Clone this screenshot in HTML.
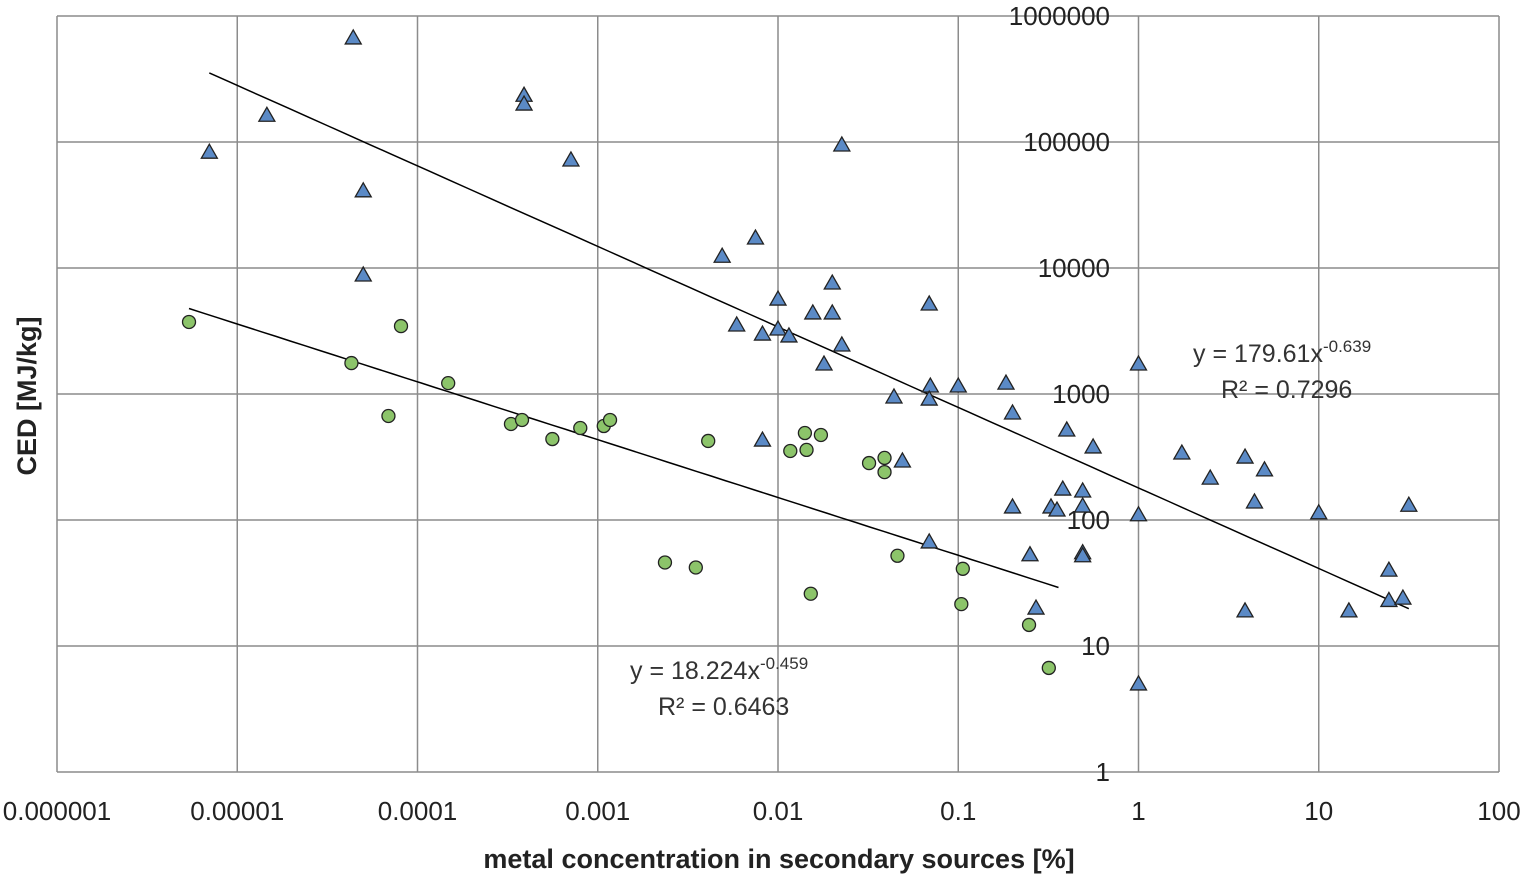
<!DOCTYPE html>
<html><head><meta charset="utf-8"><style>
html,body{margin:0;padding:0;background:#fff;}
svg{display:block;font-family:"Liberation Sans",sans-serif;}
</style></head><body>
<svg id="chart" width="1524" height="880" viewBox="0 0 1524 880" xmlns="http://www.w3.org/2000/svg"></svg>
<script>
const xTicks=[0.000001,0.00001,0.0001,0.001,0.01,0.1,1,10,100];
const xTickLabels=["0.000001","0.00001","0.0001","0.001","0.01","0.1","1","10","100"];
const yTicks=[1,10,100,1000,10000,100000,1000000];
const yTickLabels=["1","10","100","1000","10000","100000","1000000"];
const triX=[7e-6,1.46e-5,4.4e-5,5e-5,5e-5,3.9e-4,3.9e-4,7.1e-4,4.9e-3,7.5e-3,5.9e-3,8.2e-3,0.01,0.01,0.0115,0.02,0.0156,0.02,0.0226,0.0226,0.018,8.2e-3,0.044,0.049,0.069,0.07,0.069,0.1,0.069,0.184,0.2,0.2,0.25,0.27,0.327,0.353,0.38,0.4,0.49,0.49,0.49,0.49,0.56,1,1,1,1.74,2.5,3.9,4.4,5,3.9,10,14.7,24.5,24.5,29.3,31.6];
const triY=[83000,163000,670000,41000,8800,235000,200000,72000,12400,17300,3530,2990,5670,3280,2890,7600,4400,4400,94700,2450,1730,431,947,294,5180,1157,912,1157,67,1220,707,127,53,20,127,120,176,518,170,129,55,52,380,1730,110,5,340,215,316,139,250,19,114,19,40,23,24,131];
const cirX=[5.4e-6,4.3e-5,6.9e-5,8.1e-5,1.48e-4,3.3e-4,3.8e-4,5.6e-4,8e-4,1.08e-3,1.17e-3,2.36e-3,3.5e-3,4.1e-3,0.0117,0.0141,0.0144,0.0173,0.0152,0.032,0.039,0.039,0.046,0.106,0.104,0.247,0.318];
const cirY=[3730,1760,669,3460,1220,578,622,439,537,557,622,46,42,424,353,490,360,473,26,283,311,240,52,41,21.5,14.7,6.7];
const fitBlue=[179.61,-0.639,7e-6,31.6];
const fitGreen=[18.224,-0.459,5.4e-6,0.36];

const L=57,R=1499,T=16,B=772;
const xs=v=>L+(Math.log10(v)+6)/8*(R-L);
const ys=v=>B-Math.log10(v)/6*(B-T);
const NS="http://www.w3.org/2000/svg";
const svg=document.getElementById("chart");
function mk(tag,attrs,parent){const e=document.createElementNS(NS,tag);for(const k in attrs)e.setAttribute(k,attrs[k]);(parent||svg).appendChild(e);return e;}

const grid=mk("g",{});


xTicks.forEach(t=>{mk("line",{x1:xs(t),x2:xs(t),y1:T,y2:B,stroke:"#8c8c8c","stroke-width":1.5},grid);});
yTicks.forEach(t=>{mk("line",{x1:L,x2:R,y1:ys(t),y2:ys(t),stroke:"#8c8c8c","stroke-width":1.5},grid);});

const xl=mk("g",{});


xTicks.forEach((t,i)=>{const e=mk("text",{x:xs(t),y:820,"text-anchor":"middle","font-size":26,fill:"#222"},xl);e.textContent=xTickLabels[i];});
const yl=mk("g",{});


yTicks.forEach((t,i)=>{const e=mk("text",{x:1110,y:ys(t)+9,"text-anchor":"end","font-size":26,fill:"#222"},yl);e.textContent=yTickLabels[i];});

function fit(f,name){const pts=[];for(let i=0;i<=60;i++){const lx=Math.log10(f[2])+(Math.log10(f[3])-Math.log10(f[2]))*i/60;const x=Math.pow(10,lx);pts.push(xs(x).toFixed(1)+","+ys(f[0]*Math.pow(x,f[1])).toFixed(1));}
const p=mk("polyline",{points:pts.join(" "),fill:"none",stroke:"#000","stroke-width":1.5});

}
fit(fitBlue,'trendline-blue');
fit(fitGreen,'trendline-green');

const cg=mk("g",{});


cirX.forEach((v,i)=>{const c=mk("circle",{cx:xs(v),cy:ys(cirY[i]),r:6.5,fill:"#8cc46a",stroke:"#222","stroke-width":1.3},cg);

});
const tg=mk("g",{});


triX.forEach((v,i)=>{const x=xs(v),y=ys(triY[i]);const p=mk("polygon",{points:`${x},${y-8} ${x-8},${y+6} ${x+8},${y+6}`,fill:"#5b8ac6",stroke:"#222","stroke-width":1.3},tg);

});

function txt(s,x,y,attrs,name){const e=mk("text",Object.assign({x:x,y:y,"font-size":25,fill:"#333"},attrs));e.innerHTML=s;

return e;}
txt('y = 179.61x<tspan dy="-10" font-size="17">-0.639</tspan>',1193,362,{},'blue-fit-equation');
txt('R² = 0.7296',1221,398,{},'blue-fit-r2');
txt('y = 18.224x<tspan dy="-10" font-size="17">-0.459</tspan>',630,679,{},'green-fit-equation');
txt('R² = 0.6463',658,715,{},'green-fit-r2');
txt('metal concentration in secondary sources [%]',779,868,{"text-anchor":"middle","font-weight":"bold","font-size":27,fill:"#222"},'x-axis-title');
txt('CED [MJ/kg]',0,0,{"text-anchor":"middle","font-weight":"bold","font-size":27,fill:"#222",transform:"translate(36,396) rotate(-90)"},'y-axis-title');
</script>
</body></html>
